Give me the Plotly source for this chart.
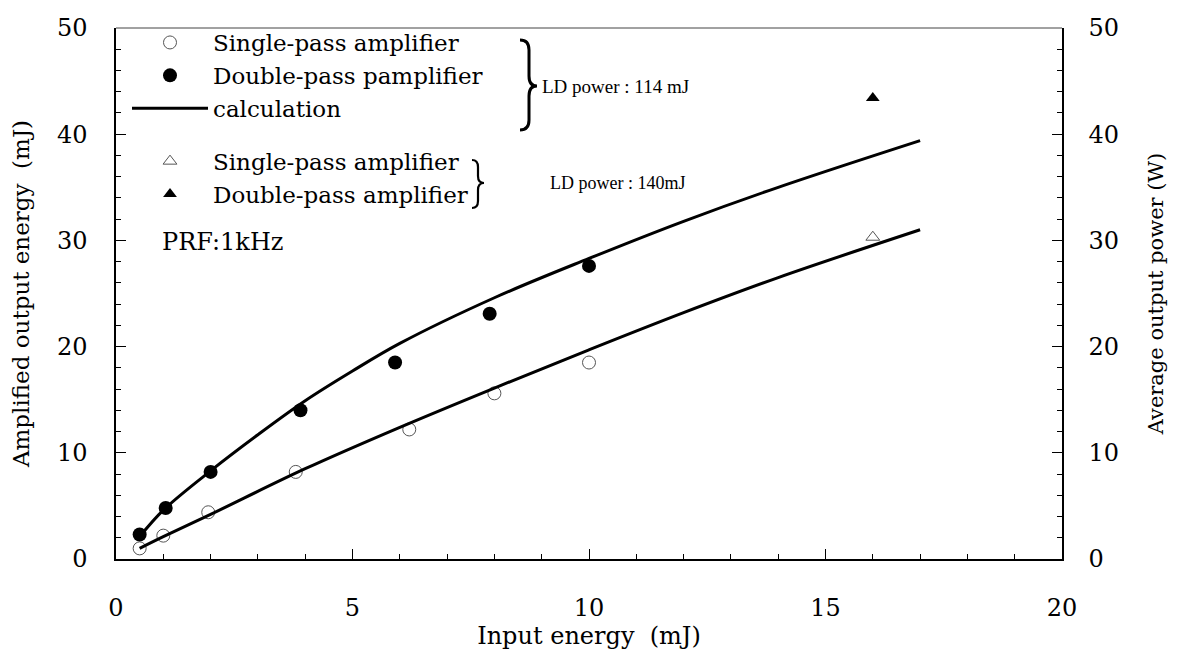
import plotly.graph_objects as go

# ---------------- data ----------------
single_114_x = [0.5, 1.0, 1.95, 3.8, 6.2, 8.0, 10.0]
single_114_y = [1.0, 2.2, 4.4, 8.2, 12.2, 15.6, 18.5]
double_114_x = [0.5, 1.05, 2.0, 3.9, 5.9, 7.9, 10.0]
double_114_y = [2.3, 4.8, 8.2, 14.0, 18.5, 23.1, 27.6]
single_140_x = [16.0]
single_140_y = [30.3]
double_140_x = [16.0]
double_140_y = [43.4]
calc_double_x = [0.5, 1.0, 2.0, 3.0, 4.0, 5.0, 6.0, 8.0, 10.0, 12.0, 14.0, 17.0]
calc_double_y = [2.1, 4.6, 8.3, 11.7, 14.9, 17.7, 20.3, 24.6, 28.3, 31.8, 35.0, 39.4]
calc_single_x = [0.5, 1.0, 2.0, 4.0, 6.0, 8.0, 10.0, 12.0, 14.0, 17.0]
calc_single_y = [1.0, 2.1, 4.2, 8.5, 12.4, 16.1, 19.7, 23.2, 26.5, 31.0]

x_ticks = [0, 5, 10, 15, 20]
y_ticks = [0, 10, 20, 30, 40, 50]

# ---------------- layout geometry ----------------
# the page body has an 8px default margin, so the figure is 8px smaller
OFF = 8
W, H = 1182 - OFF, 651 - OFF
ML, MT = 116 - OFF, 28 - OFF
PW, PH = 946, 531
MR, MB = W - ML - PW, H - MT - PH

def px(x):
    # page pixel -> paper fraction
    return (x - OFF - ML) / PW

def py(y):
    return (MT + PH - (y - OFF)) / PH

SERIF = "DejaVu Serif"

fig = go.Figure()

fig.add_trace(go.Scatter(
    x=single_114_x, y=single_114_y, mode="markers",
    name="Single-pass amplifier", legendgroup="a",
    marker=dict(symbol="circle-open", size=13, color="#555", line=dict(width=1))))
fig.add_trace(go.Scatter(
    x=double_114_x, y=double_114_y, mode="markers",
    name="Double-pass pamplifier", legendgroup="a",
    marker=dict(symbol="circle", size=14, color="black")))
fig.add_trace(go.Scatter(
    x=calc_double_x, y=calc_double_y, mode="lines",
    name="calculation", legendgroup="a",
    line=dict(color="black", width=3, shape="spline", smoothing=1.0)))
fig.add_trace(go.Scatter(
    x=calc_single_x, y=calc_single_y, mode="lines",
    showlegend=False, legendgroup="a",
    line=dict(color="black", width=3, shape="spline", smoothing=1.0)))
fig.add_trace(go.Scatter(
    x=single_140_x, y=single_140_y, mode="markers",
    name="Single-pass amplifier", legendgroup="b",
    marker=dict(symbol="triangle-up-open", size=12, color="#555", line=dict(width=1))))
fig.add_trace(go.Scatter(
    x=double_140_x, y=double_140_y, mode="markers",
    name="Double-pass amplifier", legendgroup="b",
    marker=dict(symbol="triangle-up", size=12, color="black")))
# invisible trace to activate right axis
fig.add_trace(go.Scatter(x=[None], y=[None], yaxis="y2", showlegend=False))

def brace(x0, x1, x2, y0, ym, y1, r):
    pts = [
        ("M", [(x0, y0)]),
        ("Q", [(x1, y0), (x1, y0 + r)]),
        ("L", [(x1, ym - r)]),
        ("Q", [(x1, ym), (x2, ym)]),
        ("Q", [(x1, ym), (x1, ym + r)]),
        ("L", [(x1, y1 - r)]),
        ("Q", [(x1, y1), (x0, y1)]),
    ]
    s = ""
    for cmd, ps in pts:
        s += cmd + " " + " ".join(f"{px(a):.5f},{py(b):.5f}" for a, b in ps) + " "
    return s.strip()

shapes = [
    dict(type="line", xref="paper", yref="paper", x0=0, x1=1, y0=1, y1=1,
         line=dict(color="#444", width=1)),
    dict(type="path", xref="paper", yref="paper",
         path=brace(520, 529, 537, 40, 86, 130, 10),
         line=dict(color="black", width=3)),
    dict(type="path", xref="paper", yref="paper",
         path=brace(472, 478, 484, 160, 183, 208, 7),
         line=dict(color="black", width=2.2)),
]

annotations = [
    dict(text="LD power : 114 mJ", x=px(540), y=py(86), xref="paper", yref="paper",
         xanchor="left", yanchor="middle", showarrow=False,
         font=dict(family="Liberation Serif", size=19, color="black")),
    dict(text="LD power : 140mJ", x=px(548), y=py(183), xref="paper", yref="paper",
         xanchor="left", yanchor="middle", showarrow=False,
         font=dict(family="Liberation Serif", size=18, color="black")),
    dict(text="PRF:1kHz", x=px(160), y=py(242), xref="paper", yref="paper",
         xanchor="left", yanchor="middle", showarrow=False,
         font=dict(family=SERIF, size=24, color="black")),
]

axis_common = dict(
    showgrid=False, zeroline=False, showline=True, linecolor="black", linewidth=1.5,
    ticks="inside", ticklen=10, tickwidth=1.2, tickcolor="black",
    tickfont=dict(family=SERIF, size=24, color="black"),
)

fig.update_layout(
    width=W, height=H,
    margin=dict(l=ML, r=MR, t=MT, b=MB, autoexpand=False),
    paper_bgcolor="white", plot_bgcolor="white",
    font=dict(family=SERIF, size=22, color="black"),
    xaxis=dict(range=[0, 20], tickvals=x_ticks, ticklabelstandoff=26,
               minor=dict(dtick=1, ticks="inside", ticklen=5, tickcolor="black"),
               title=dict(text="Input energy  (mJ)", standoff=2,
                          font=dict(family=SERIF, size=24)),
               **axis_common),
    yaxis=dict(range=[0, 50], tickvals=y_ticks, ticklabelstandoff=22,
               minor=dict(dtick=2, ticks="inside", ticklen=5, tickcolor="black"),
               title=dict(text="Amplified output energy  (mJ)", standoff=22,
                          font=dict(family=SERIF, size=23)),
               **axis_common),
    yaxis2=dict(range=[0, 50], tickvals=y_ticks, overlaying="y", side="right",
                ticklabelstandoff=20,
                minor=dict(dtick=2, ticks="inside", ticklen=5, tickcolor="black"),
                title=dict(text="Average output power (W)", standoff=30,
                           font=dict(family=SERIF, size=21)),
                **axis_common),
    legend=dict(x=px(127), y=py(21), xanchor="left", yanchor="top",
                xref="paper", yref="paper",
                bgcolor="rgba(0,0,0,0)", borderwidth=0,
                font=dict(family=SERIF, size=23, color="black"),
                itemwidth=76, tracegroupgap=20, traceorder="grouped"),
    shapes=shapes, annotations=annotations,
    showlegend=True,
)

fig.write_html("out.html")
